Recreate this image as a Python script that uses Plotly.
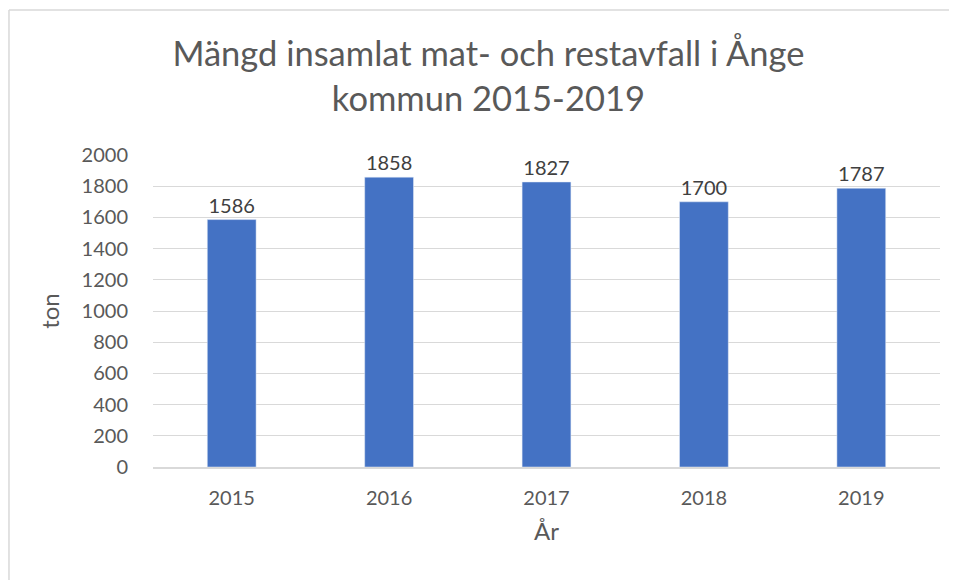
import plotly.graph_objects as go

years = ["2015", "2016", "2017", "2018", "2019"]
values = [1586, 1858, 1827, 1700, 1787]
y_ticks = [0, 200, 400, 600, 800, 1000, 1200, 1400, 1600, 1800, 2000]

FONT = "Lato"
fig = go.Figure()
fig.add_trace(go.Bar(x=years, y=values, marker_color="#4472C4", width=0.31,
                     text=[str(v) for v in values], textposition="outside",
                     textfont=dict(family=FONT, size=20, color="#404040"),
                     cliponaxis=False))

# chart-area border (left and top edges visible)
fig.add_shape(type="line", xref="paper", yref="paper", x0=-0.183, x1=1.1, y0=1.465, y1=1.465,
              line=dict(color="#d9d9d9", width=1.5))
fig.add_shape(type="line", xref="paper", yref="paper", x0=-0.183, x1=-0.183, y0=1.465, y1=-0.5,
              line=dict(color="#d9d9d9", width=1.5))

fig.update_layout(
    width=957, height=580,
    margin=dict(l=145, r=25, t=147, b=121),
    paper_bgcolor="white", plot_bgcolor="white",
    showlegend=False,
    title=dict(text="Mängd insamlat mat- och restavfall i Ånge<br>kommun 2015-2019",
               x=0.502, xanchor="center", y=0.9, yanchor="middle",
               font=dict(family=FONT, size=34.5, color="#595959")),
    font=dict(family=FONT, size=20, color="#595959"),
)
fig.update_xaxes(type="category", title_text="År", showgrid=False,
                 showline=True, linecolor="#d9d9d9", linewidth=1.5,
                 ticks="outside", ticklen=12, tickcolor="white")
fig.update_yaxes(title_text="ton", range=[0, 2000], tickvals=y_ticks,
                 showgrid=True, gridcolor="#d9d9d9", zeroline=False,
                 ticks="outside", ticklen=20, tickcolor="white")

fig.write_html("out.html")
